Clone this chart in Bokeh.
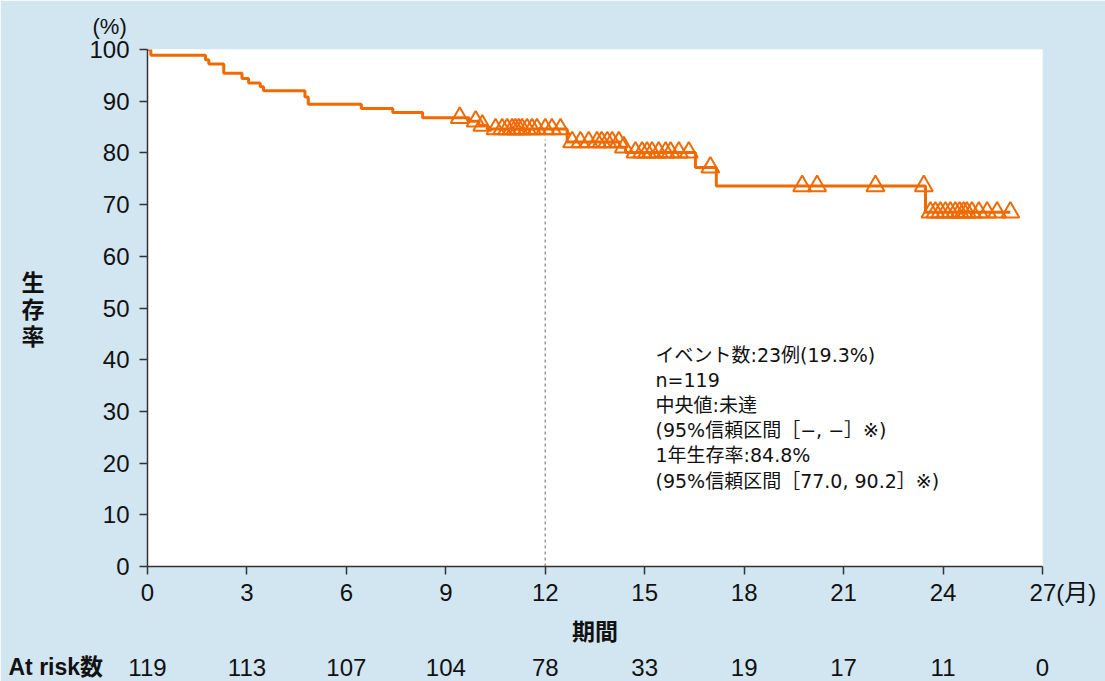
import numpy as np
from bokeh.plotting import figure
from bokeh.models import Range1d, Label, LinearAxis, Title
from bokeh.embed import file_html
from bokeh.resources import INLINE

# ---------------- data ----------------
event_months = [0.1, 1.75, 1.85, 2.3, 2.85, 3.05, 3.4, 3.5, 4.75, 4.85, 6.45, 7.4,
                8.3, 9.7, 10.0, 10.25, 12.66, 14.25, 14.42, 16.53, 17.16, 23.47]
survival_pct = [98.9, 98.0, 97.2, 95.4, 94.4, 93.5, 92.8, 92.0, 90.8, 89.4, 88.6, 87.8,
                86.8, 86.1, 85.3, 84.6, 82.1, 81.1, 80.1, 77.2, 73.6, 68.5]
follow_up_end = 26.03
censor_months = [9.42, 9.9, 10.1, 10.5, 10.7, 10.85, 11.0, 11.1, 11.2, 11.3, 11.45, 11.6,
                 11.75, 12.0, 12.2, 12.46, 12.81, 13.06, 13.31, 13.56, 13.7, 13.87, 14.02,
                 14.22, 14.37, 14.72, 14.92, 15.07, 15.22, 15.42, 15.63, 15.78, 16.03, 16.33,
                 16.98, 19.75, 20.2, 21.96, 23.42, 23.62, 23.77, 23.92, 24.07, 24.22, 24.37,
                 24.5, 24.62, 24.72, 24.87, 25.08, 25.33, 25.63, 26.03]
landmark_month = 12
x_ticks = [0, 3, 6, 9, 12, 15, 18, 21, 24, 27]
y_ticks = [0, 10, 20, 30, 40, 50, 60, 70, 80, 90, 100]
at_risk = [119, 113, 107, 104, 78, 33, 19, 17, 11, 0]
annotation_lines = [
    "イベント数:23例(19.3%)",
    "n=119",
    "中央値:未達",
    "(95%信頼区間［−, −］※)",
    "1年生存率:84.8%",
    "(95%信頼区間［77.0, 90.2］※)",
]
y_label = "生\n存\n率"
x_label = "期間"
x_unit = "(月)"
y_unit = "(%)"
at_risk_title = "At risk数"

# ---------------- styling / layout ----------------
W, H = 1105, 681
FL, FT, FR, FB = 147, 49, 1042, 566          # frame edges in canvas pixels
BG = "#d1e6f1"
ORANGE = "#f06a00"
AXIS = "#333333"
TXT = "#111111"
LATIN = "Liberation Sans"
CJK = "Noto Sans CJK JP"
MIX = "'Liberation Sans', 'Noto Sans CJK JP', sans-serif"
NOTE = "'DejaVu Sans', 'Noto Sans CJK JP', sans-serif"

X0, X1 = x_ticks[0], x_ticks[-1]
Y0, Y1 = y_ticks[0], y_ticks[-1]


def dx(px):
    return X0 + (px - FL) / (FR - FL) * (X1 - X0)


def dy(py):
    return Y0 + (FB - py) / (FB - FT) * (Y1 - Y0)


p = figure(width=W, height=H, output_backend="svg", toolbar_location=None,
           x_range=Range1d(X0, X1), y_range=Range1d(Y0, Y1),
           min_border_left=FL, min_border_right=W - FR,
           min_border_top=FT, min_border_bottom=H - FB)
p.background_fill_color = "white"
p.border_fill_color = BG
p.outline_line_color = None
p.grid.visible = False

for ax in (p.xaxis, p.yaxis):
    ax.axis_line_color = AXIS
    ax.axis_line_width = 1.5
    ax.major_tick_line_color = AXIS
    ax.major_tick_line_width = 1.5
    ax.major_tick_out = 8
    ax.major_tick_in = 0
    ax.minor_tick_out = 0
    ax.minor_tick_in = 0
    ax.major_label_text_font = MIX
    ax.major_label_text_font_size = "24px"
    ax.major_label_text_color = TXT
    ax.axis_label_text_font = CJK
    ax.axis_label_text_font_style = "bold"
    ax.axis_label_text_font_size = "23px"
    ax.axis_label_text_color = TXT

p.xaxis.ticker = x_ticks
p.yaxis.ticker = y_ticks
p.xaxis.major_label_standoff = 4
p.yaxis.major_label_standoff = 10

# unit "(月)" after the last x tick, padded on the left so "27" stays centred
pad = "\u3000\u2002\u2009"
p.xaxis.major_label_overrides = {x_ticks[-1]: pad + str(x_ticks[-1]) + x_unit}

# axis titles
p.xaxis.axis_label = x_label
p.xaxis.axis_label_standoff = 4
p.yaxis.axis_label = y_label
p.yaxis.axis_label_orientation = "horizontal"
p.yaxis.axis_label_standoff = 42
p.yaxis.axis_label_text_line_height = 0.78

# at-risk row as an extra axis below
risk_axis = LinearAxis(ticker=x_ticks,
                       major_label_overrides={t: str(n) for t, n in zip(x_ticks, at_risk)})
risk_axis.axis_line_color = None
risk_axis.major_tick_line_color = None
risk_axis.minor_tick_line_color = None
risk_axis.major_tick_out = 0
risk_axis.major_tick_in = 0
risk_axis.minor_tick_out = 0
risk_axis.major_label_standoff = 9
risk_axis.major_label_text_font = LATIN
risk_axis.major_label_text_font_size = "24px"
risk_axis.major_label_text_color = TXT
p.add_layout(risk_axis, "below")

p.add_layout(Title(text=at_risk_title, align="left", offset=8 - FL, vertical_align="top",
                   standoff=-50, text_font=MIX, text_font_size="23px",
                   text_font_style="bold", text_color=TXT), "below")

p.add_layout(Title(text=y_unit, align="left", offset=92 - FL, vertical_align="middle",
                   standoff=19, text_font=LATIN, text_font_size="22px",
                   text_font_style="normal", text_color=TXT), "above")

# survival curve
xs = [X0] + event_months + [follow_up_end]
ys = [100.0] + survival_pct + [survival_pct[-1]]
p.step(xs, ys, mode="after", line_color=ORANGE, line_width=3)

# censor marks
idx = np.searchsorted(np.array(event_months), np.array(censor_months), side="right")
cy = [100.0 if i == 0 else survival_pct[i - 1] for i in idx]
p.scatter(censor_months, cy, marker="triangle", size=18, fill_color=None,
          line_color=ORANGE, line_width=2)

# 1-year reference line
li = np.searchsorted(np.array(event_months), landmark_month, side="right")
land_y = survival_pct[li - 1]
p.segment(x0=[landmark_month], y0=[Y0], x1=[landmark_month], y1=[land_y - 2],
          line_color="#999999", line_width=1.5, line_dash="3 3")

# annotation block (inside the frame)
for i, line in enumerate(annotation_lines):
    p.add_layout(Label(x=dx(655), y=dy(354 + 25.2 * i), text=line, text_font=NOTE,
                       text_font_size="19px", text_align="left", text_baseline="middle",
                       text_color=TXT))

open("out.html", "w").write(file_html(p, INLINE))
